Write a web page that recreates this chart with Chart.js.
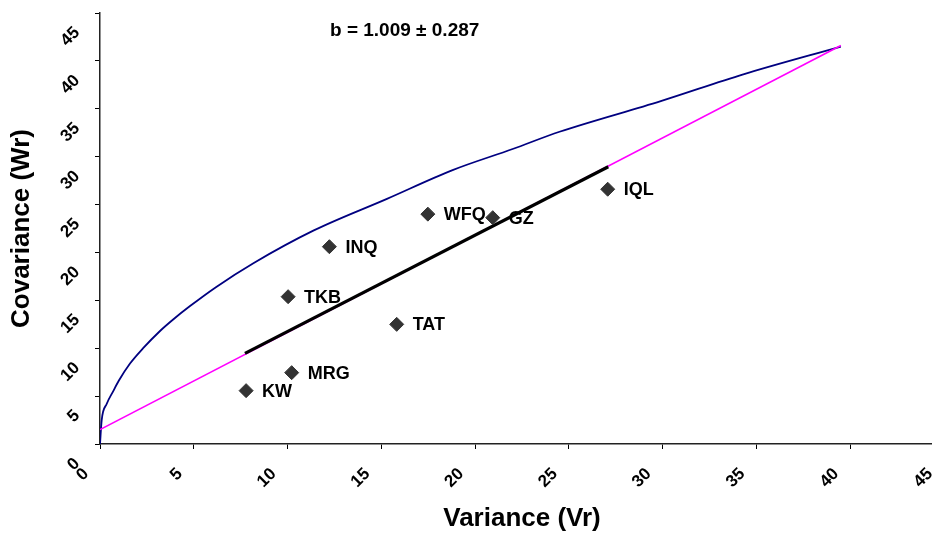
<!DOCTYPE html>
<html>
<head>
<meta charset="utf-8">
<script src="https://cdn.jsdelivr.net/npm/chart.js@4.4.1/dist/chart.umd.min.js"></script>
<style>
  html, body { margin: 0; padding: 0; background: #fff; overflow: hidden; }
  #wrap { width: 932px; height: 534px; position: relative; overflow: hidden; }
  #c { display: block; }
</style>
</head>
<body>
<div id="wrap"><canvas id="c" width="944" height="534"></canvas></div>
<script>
// ---- data ----
const names = ['KW', 'MRG', 'TKB', 'TAT', 'INQ', 'WFQ', 'GZ', 'IQL'];
const vr = [7.79, 10.22, 10.03, 15.82, 12.23, 17.48, 20.94, 27.07];
const wr = [5.57, 7.45, 15.38, 12.49, 20.6, 24.0, 23.63, 26.6];

// limiting parabola (blue)
const limitVr = [0, 0.09, 0.36, 0.7, 1.0, 1.6, 2.3, 3.2, 3.9, 4.8, 6.2, 8.2, 11.4, 15.3, 18.8, 22.0, 24.5, 29.9, 34.3, 39.5];
const limitWr = [0, 2.5, 4.2, 5.5, 6.6, 8.4, 10.0, 11.8, 13.0, 14.4, 16.4, 18.9, 22.3, 25.6, 28.6, 30.8, 32.6, 35.8, 38.6, 41.5];

// regression line (magenta) and its fitted segment (black)
const regVr = [0, 39.5];
const regWr = [1.5, 41.6];
const fitVr = [7.73, 27.1];
const fitWr = [9.47, 28.95];

const xTicks = [0, 5, 10, 15, 20, 25, 30, 35, 40, 45];
const yTicks = [0, 5, 10, 15, 20, 25, 30, 35, 40, 45];

const annotation = 'b = 1.009 ± 0.287';
const xTitle = 'Variance (Vr)';
const yTitle = 'Covariance (Wr)';

const FONT = "'Liberation Sans', Arial, Helvetica, sans-serif";
const zip = (a, b) => a.map((v, i) => ({ x: v, y: b[i] }));

const labelPlugin = {
  id: 'pointLabels',
  afterDatasetsDraw(chart) {
    const ctx = chart.ctx;
    const meta = chart.getDatasetMeta(0);
    ctx.save();
    ctx.font = 'bold 18px ' + FONT;
    ctx.fillStyle = '#000';
    ctx.textAlign = 'left';
    ctx.textBaseline = 'middle';
    meta.data.forEach((el, i) => {
      ctx.fillText(names[i], el.x + 16, el.y + 1);
    });
    ctx.font = 'bold 19px ' + FONT;
    ctx.fillText(annotation, 330, 31);
    ctx.restore();
  }
};

const tickFont = { family: FONT, size: 17, weight: 'bold' };
const titleFont = { family: FONT, size: 26, weight: 'bold' };

new Chart(document.getElementById('c'), {
  type: 'scatter',
  data: {
    datasets: [
      {
        label: 'Parents',
        data: zip(vr, wr),
        pointStyle: 'rectRot',
        pointRadius: 7,
        pointBackgroundColor: '#333333',
        pointBorderColor: '#333333',
        pointBorderWidth: 1,
        showLine: false
      },
      {
        label: 'Fit',
        data: zip(fitVr, fitWr),
        showLine: true,
        borderColor: '#000000',
        borderWidth: 3.2,
        pointRadius: 0,
        tension: 0
      },
      {
        label: 'Regression',
        data: zip(regVr, regWr),
        showLine: true,
        borderColor: '#ff00ff',
        borderWidth: 1.6,
        pointRadius: 0,
        tension: 0
      },
      {
        label: 'Limit parabola',
        data: zip(limitVr, limitWr),
        showLine: true,
        borderColor: '#000080',
        borderWidth: 1.8,
        pointRadius: 0,
        cubicInterpolationMode: 'monotone'
      }
    ]
  },
  options: {
    responsive: false,
    animation: false,
    layout: { autoPadding: false, padding: { top: 13, right: 0, bottom: 0, left: 0 } },
    plugins: {
      legend: { display: false },
      tooltip: { enabled: false }
    },
    scales: {
      x: {
        type: 'linear',
        min: 0,
        max: 45,
        afterBuildTicks(s) { s.ticks = xTicks.map(v => ({ value: v })); },
        afterFit(s) { s.height = 90; s.paddingLeft = 0; s.paddingRight = 0; },
        grid: { display: true, drawOnChartArea: false, drawTicks: true, tickLength: 5, color: '#000', lineWidth: 1 },
        border: { display: true, color: '#222', width: 1.5 },
        ticks: {
          font: tickFont,
          color: '#000',
          minRotation: 45,
          maxRotation: 45,
          autoSkip: false,
          labelOffset: -14,
          padding: 15,
          callback: v => String(v)
        },
        title: { display: true, text: xTitle, font: titleFont, color: '#000', padding: 0 }
      },
      y: {
        type: 'linear',
        min: 0,
        max: 45,
        afterBuildTicks(s) { s.ticks = yTicks.map(v => ({ value: v })); },
        afterFit(s) { s.width = 100; s.paddingTop = 0; s.paddingBottom = 0; },
        grid: { display: true, drawOnChartArea: false, drawTicks: true, tickLength: 5, color: '#000', lineWidth: 1 },
        border: { display: true, color: '#222', width: 1.5 },
        ticks: {
          font: tickFont,
          color: '#000',
          minRotation: 45,
          maxRotation: 45,
          autoSkip: false,
          labelOffset: 17,
          padding: 18,
          callback: v => String(v)
        },
        title: { display: true, text: yTitle, font: titleFont, color: '#000', padding: { top: 6, bottom: 0 } }
      }
    }
  },
  plugins: [labelPlugin]
});
</script>
</body>
</html>
